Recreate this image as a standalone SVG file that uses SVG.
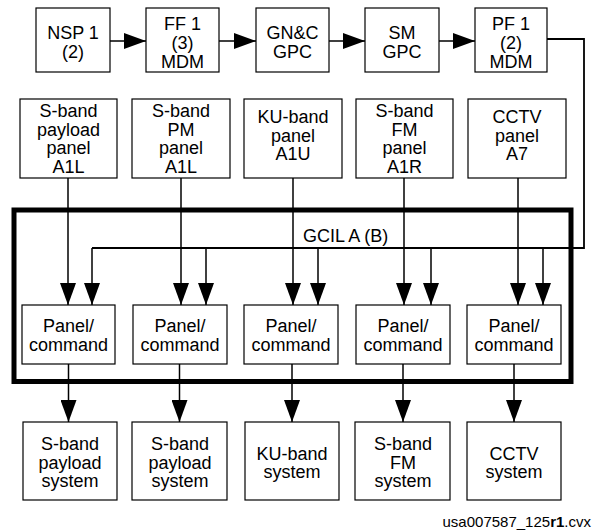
<svg xmlns="http://www.w3.org/2000/svg" width="592" height="531" viewBox="0 0 592 531">
<style>
.box{fill:#fff;stroke:#000;stroke-width:1.2}
.t{font-family:"Liberation Sans",Arial,Helvetica,sans-serif;font-size:18px;fill:#000;text-anchor:middle}
.ln{fill:none;stroke:#000;stroke-width:1.5}
.frame{fill:none;stroke:#000;stroke-width:5}
.cap{font-family:"Liberation Sans",Arial,Helvetica,sans-serif;font-size:15px;fill:#000;text-anchor:end}
</style>
<defs>
<marker id="ah" markerUnits="userSpaceOnUse" markerWidth="22" markerHeight="16" refX="22" refY="8" orient="auto" viewBox="0 0 22 16">
<path d="M0,0 L22,8 L0,16 z" fill="#000"/>
</marker>
</defs>

<g id="gcil-frame">
<rect class="frame" x="14" y="210" width="557" height="171.5"/>
<text class="t" x="303" y="242" style="text-anchor:start">GCIL A (B)</text>
</g>

<g id="nsp1"><rect class="box" x="36" y="8" width="74" height="64"/><text class="t"><tspan x="73" y="39">NSP 1</tspan><tspan x="73" y="58">(2)</tspan></text></g>
<g id="ff1"><rect class="box" x="146" y="8" width="73" height="64"/><text class="t"><tspan x="182.5" y="30">FF 1</tspan><tspan x="182.5" y="49">(3)</tspan><tspan x="182.5" y="68">MDM</tspan></text></g>
<g id="gnc"><rect class="box" x="256" y="8" width="73" height="64"/><text class="t"><tspan x="292.5" y="39">GN&amp;C</tspan><tspan x="292.5" y="58">GPC</tspan></text></g>
<g id="sm"><rect class="box" x="365" y="8" width="74" height="64"/><text class="t"><tspan x="402" y="39">SM</tspan><tspan x="402" y="58">GPC</tspan></text></g>
<g id="pf1"><rect class="box" x="475" y="8" width="72" height="64"/><text class="t"><tspan x="511" y="30">PF 1</tspan><tspan x="511" y="49">(2)</tspan><tspan x="511" y="68">MDM</tspan></text></g>

<g id="panel-sband-payload"><rect class="box" x="20" y="99" width="97" height="79"/><text class="t"><tspan x="68.5" y="117">S-band</tspan><tspan x="68.5" y="135.5">payload</tspan><tspan x="68.5" y="154">panel</tspan><tspan x="68.5" y="172.5">A1L</tspan></text></g>
<g id="panel-sband-pm"><rect class="box" x="132" y="99" width="98" height="79"/><text class="t"><tspan x="181" y="117">S-band</tspan><tspan x="181" y="135.5">PM</tspan><tspan x="181" y="154">panel</tspan><tspan x="181" y="172.5">A1L</tspan></text></g>
<g id="panel-ku"><rect class="box" x="244" y="99" width="98" height="79"/><text class="t"><tspan x="293" y="123">KU-band</tspan><tspan x="293" y="141.5">panel</tspan><tspan x="293" y="160">A1U</tspan></text></g>
<g id="panel-sband-fm"><rect class="box" x="356" y="99" width="97" height="79"/><text class="t"><tspan x="404.5" y="117">S-band</tspan><tspan x="404.5" y="135.5">FM</tspan><tspan x="404.5" y="154">panel</tspan><tspan x="404.5" y="172.5">A1R</tspan></text></g>
<g id="panel-cctv"><rect class="box" x="468" y="99" width="98" height="79"/><text class="t"><tspan x="517" y="123">CCTV</tspan><tspan x="517" y="141.5">panel</tspan><tspan x="517" y="160">A7</tspan></text></g>

<g id="cmd1"><rect class="box" x="22" y="305" width="93" height="59"/><text class="t"><tspan x="68.5" y="332">Panel/</tspan><tspan x="68.5" y="351">command</tspan></text></g>
<g id="cmd2"><rect class="box" x="133" y="305" width="94" height="59"/><text class="t"><tspan x="180" y="332">Panel/</tspan><tspan x="180" y="351">command</tspan></text></g>
<g id="cmd3"><rect class="box" x="244" y="305" width="94" height="59"/><text class="t"><tspan x="291" y="332">Panel/</tspan><tspan x="291" y="351">command</tspan></text></g>
<g id="cmd4"><rect class="box" x="356" y="305" width="94" height="59"/><text class="t"><tspan x="403" y="332">Panel/</tspan><tspan x="403" y="351">command</tspan></text></g>
<g id="cmd5"><rect class="box" x="467" y="305" width="94" height="59"/><text class="t"><tspan x="514" y="332">Panel/</tspan><tspan x="514" y="351">command</tspan></text></g>

<g id="sys1"><rect class="box" x="23" y="422" width="94" height="78"/><text class="t"><tspan x="70" y="450">S-band</tspan><tspan x="70" y="469">payload</tspan><tspan x="70" y="487">system</tspan></text></g>
<g id="sys2"><rect class="box" x="132" y="422" width="95" height="78"/><text class="t"><tspan x="180" y="450">S-band</tspan><tspan x="180" y="469">payload</tspan><tspan x="180" y="487">system</tspan></text></g>
<g id="sys3"><rect class="box" x="245" y="422" width="94" height="78"/><text class="t"><tspan x="292" y="460">KU-band</tspan><tspan x="292" y="478">system</tspan></text></g>
<g id="sys4"><rect class="box" x="355" y="422" width="95" height="78"/><text class="t"><tspan x="403" y="450">S-band</tspan><tspan x="403" y="469">FM</tspan><tspan x="403" y="487">system</tspan></text></g>
<g id="sys5"><rect class="box" x="467" y="422" width="94" height="78"/><text class="t"><tspan x="514" y="460">CCTV</tspan><tspan x="514" y="478">system</tspan></text></g>

<g id="connectors">
<line class="ln" x1="110" y1="41" x2="146" y2="41" marker-end="url(#ah)"/>
<line class="ln" x1="219" y1="41" x2="256" y2="41" marker-end="url(#ah)"/>
<line class="ln" x1="329" y1="41" x2="365" y2="41" marker-end="url(#ah)"/>
<line class="ln" x1="439" y1="41" x2="475" y2="41" marker-end="url(#ah)"/>
<polyline class="ln" points="547,39 584,39 584,248 92,248" style="stroke-width:1.8"/>
<line class="ln" x1="68" y1="178" x2="68" y2="305" marker-end="url(#ah)"/>
<line class="ln" x1="181" y1="178" x2="181" y2="305" marker-end="url(#ah)"/>
<line class="ln" x1="293" y1="178" x2="293" y2="305" marker-end="url(#ah)"/>
<line class="ln" x1="404" y1="178" x2="404" y2="305" marker-end="url(#ah)"/>
<line class="ln" x1="518" y1="178" x2="518" y2="305" marker-end="url(#ah)"/>
<line class="ln" x1="92" y1="248" x2="92" y2="305" marker-end="url(#ah)"/>
<line class="ln" x1="206" y1="248" x2="206" y2="305" marker-end="url(#ah)"/>
<line class="ln" x1="318" y1="248" x2="318" y2="305" marker-end="url(#ah)"/>
<line class="ln" x1="431" y1="248" x2="431" y2="305" marker-end="url(#ah)"/>
<line class="ln" x1="543" y1="248" x2="543" y2="305" marker-end="url(#ah)"/>
<line class="ln" x1="68.5" y1="364" x2="68.5" y2="422" marker-end="url(#ah)"/>
<line class="ln" x1="179.5" y1="364" x2="179.5" y2="422" marker-end="url(#ah)"/>
<line class="ln" x1="292" y1="364" x2="292" y2="422" marker-end="url(#ah)"/>
<line class="ln" x1="403" y1="364" x2="403" y2="422" marker-end="url(#ah)"/>
<line class="ln" x1="514" y1="364" x2="514" y2="422" marker-end="url(#ah)"/>
</g>

<text class="cap" x="591" y="527">usa007587_125<tspan font-weight="bold">r1</tspan>.cvx</text>
</svg>
